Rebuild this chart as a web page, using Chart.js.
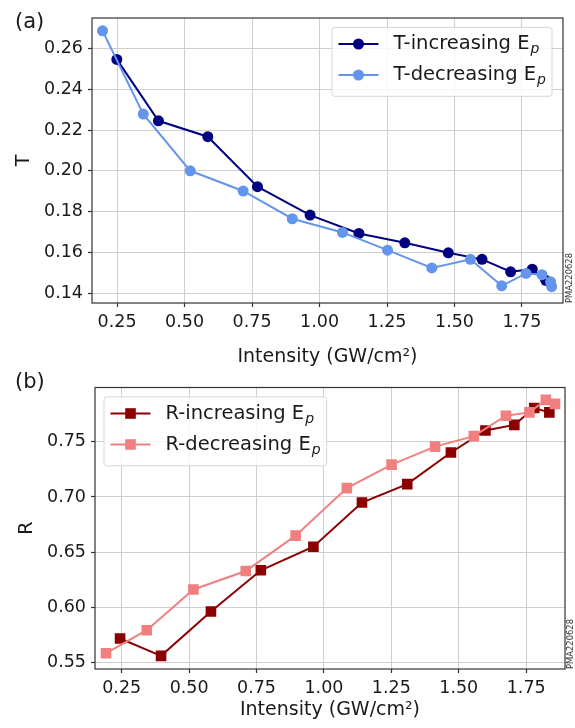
<!DOCTYPE html>
<html>
<head>
<meta charset="utf-8">
<script src="https://cdn.jsdelivr.net/npm/chart.js@4.4.1/dist/chart.umd.min.js"></script>
<style>
    html, body { margin: 0; padding: 0; background: #fff; }
    #wrap { position: relative; width: 575px; height: 728px; overflow: hidden;
            font-family: "DejaVu Sans", sans-serif; color: #1a1a1a; }
    #topCanvas { position: absolute; left: 0; top: 0; }
    #botCanvas { position: absolute; left: 0; top: 372px; }
    .panel { position: absolute; left: 15px; font-size: 21px; line-height: 21px; }
    .stamp { position: absolute; width: 60px; height: 10px; font-size: 8.4px; line-height: 10px;
             text-align: center; transform: rotate(-90deg); color: #333; }
</style>
</head>
<body>
<div id="wrap">
    <canvas id="topCanvas" width="575" height="372"></canvas>
    <canvas id="botCanvas" width="575" height="356"></canvas>
    <div class="panel" style="top:11px;">(a)</div>
    <div class="panel" style="top:371px;">(b)</div>
    <div class="stamp" style="left:539px; top:273px;">PMA220628</div>
    <div class="stamp" style="left:540px; top:639px;">PMA220628</div>
</div>
<script>
/*global Chart*/
(function () {
    "use strict";

    // ---- data ----
    var xTicks = [0.25, 0.50, 0.75, 1.00, 1.25, 1.50, 1.75];
    var tTicks = [0.14, 0.16, 0.18, 0.20, 0.22, 0.24, 0.26];
    var rTicks = [0.55, 0.60, 0.65, 0.70, 0.75];

    var tIncX = [0.249, 0.403, 0.586, 0.770, 0.965, 1.146, 1.316, 1.477, 1.602, 1.708, 1.788, 1.838];
    var tIncY = [0.2546, 0.2245, 0.2167, 0.1922, 0.1783, 0.1693, 0.1647, 0.1598, 0.1566, 0.1505, 0.1518, 0.1463];
    var tDecX = [0.196, 0.347, 0.521, 0.717, 0.899, 1.085, 1.252, 1.416, 1.559, 1.675, 1.765, 1.824, 1.856, 1.860];
    var tDecY = [0.2686, 0.2278, 0.2000, 0.1901, 0.1765, 0.1698, 0.1611, 0.1524, 0.1566, 0.1436, 0.1497, 0.1491, 0.1456, 0.1432];

    var rIncX = [0.244, 0.396, 0.581, 0.766, 0.961, 1.141, 1.309, 1.471, 1.599, 1.706, 1.780, 1.836];
    var rIncY = [0.5720, 0.5563, 0.5964, 0.6337, 0.6550, 0.6950, 0.7116, 0.7402, 0.7601, 0.7652, 0.7804, 0.7765];
    var rDecX = [0.192, 0.343, 0.516, 0.710, 0.895, 1.085, 1.251, 1.412, 1.556, 1.675, 1.762, 1.823, 1.857];
    var rDecY = [0.5587, 0.5795, 0.6163, 0.6330, 0.6650, 0.7080, 0.7292, 0.7455, 0.7550, 0.7735, 0.7765, 0.7878, 0.7842];

    var tLabels = ['T-increasing E_p', 'T-decreasing E_p'];
    var rLabels = ['R-increasing E_p', 'R-decreasing E_p'];

    var TXT = '#1a1a1a',
        GRID = '#cfcfcf',
        FRAME = '#333333';

    Chart.defaults.font.family = '"DejaVu Sans", sans-serif';
    Chart.defaults.color = TXT;

    var toPoints = function (xs, ys) {
        return xs.map(function (x, i) {
            return {x: x, y: ys[i]};
        });
    };

    // matplotlib-like box around the axes plus a legend drawn inside the plot
    var boxPlugin = {
        id: 'boxLegend',
        afterDraw: function (chart, args, opts) {
            var ctx = chart.ctx,
                area = chart.chartArea,
                size = opts.fontSize,
                mainFont = size + 'px "DejaVu Sans"',
                subFont = 'italic ' + Math.round(size * 0.7) + 'px "DejaVu Sans"',
                datasets = chart.data.datasets,
                maxW = 0;

            ctx.save();
            ctx.strokeStyle = FRAME;
            ctx.lineWidth = 1.2;
            ctx.strokeRect(area.left, area.top, area.right - area.left, area.bottom - area.top);

            datasets.forEach(function (ds) {
                var parts = ds.label.split('_'),
                    w;
                ctx.font = mainFont;
                w = ctx.measureText(parts[0]).width;
                ctx.font = subFont;
                w += ctx.measureText(parts[1]).width;
                maxW = Math.max(maxW, w);
            });

            var boxW = 6.5 + 55 + maxW + 7,
                boxH = 69,
                left = opts.align === 'right' ? area.right - 11 - boxW : area.left + 9,
                top = area.top + 9.3;

            ctx.beginPath();
            ctx.roundRect(left, top, boxW, boxH, 3);
            ctx.fillStyle = 'rgba(255,255,255,0.8)';
            ctx.fill();
            ctx.strokeStyle = '#d6d6d6';
            ctx.lineWidth = 1;
            ctx.stroke();

            datasets.forEach(function (ds, i) {
                var y = top + 16.7 + i * 31,
                    x0 = left + 6.5,
                    parts = ds.label.split('_'),
                    w;

                ctx.strokeStyle = ds.borderColor;
                ctx.lineWidth = ds.borderWidth;
                ctx.beginPath();
                ctx.moveTo(x0, y);
                ctx.lineTo(x0 + 40, y);
                ctx.stroke();

                ctx.fillStyle = ds.pointBackgroundColor;
                if (ds.pointStyle === 'rect') {
                    ctx.fillRect(x0 + 20 - 5.3, y - 5.3, 10.6, 10.6);
                } else {
                    ctx.beginPath();
                    ctx.arc(x0 + 20, y, ds.pointRadius, 0, Math.PI * 2);
                    ctx.fill();
                }

                ctx.fillStyle = TXT;
                ctx.textBaseline = 'middle';
                ctx.textAlign = 'left';
                ctx.font = mainFont;
                ctx.fillText(parts[0], x0 + 55, y);
                w = ctx.measureText(parts[0]).width;
                ctx.font = subFont;
                ctx.fillText(parts[1], x0 + 55 + w + 1, y + size * 0.3);
            });
            ctx.restore();
        }
    };

    var makeScales = function (cfg) {
        return {
            x: {
                type: 'linear',
                min: cfg.xMin,
                max: cfg.xMax,
                afterBuildTicks: function (scale) {
                    scale.ticks = xTicks.map(function (v) { return {value: v}; });
                },
                afterFit: function (scale) {
                    scale.height = cfg.xHeight;
                },
                grid: {color: GRID, lineWidth: 1, tickLength: 4, tickColor: FRAME, tickWidth: 1.2},
                border: {display: false},
                ticks: {
                    font: {size: 17.5}, color: TXT, padding: 5, maxRotation: 0, autoSkip: false,
                    callback: function (v) { return v.toFixed(2); }
                },
                title: {
                    display: true, text: 'Intensity (GW/cm\u00B2)', color: TXT,
                    font: {size: 19}, padding: {top: 0, bottom: cfg.xTitlePad}
                }
            },
            y: {
                type: 'linear',
                min: cfg.yMin,
                max: cfg.yMax,
                afterBuildTicks: function (scale) {
                    scale.ticks = cfg.yTicks.map(function (v) { return {value: v}; });
                },
                afterFit: function (scale) {
                    scale.width = cfg.yWidth;
                },
                grid: {color: GRID, lineWidth: 1, tickLength: 4, tickColor: FRAME, tickWidth: 1.2},
                border: {display: false},
                ticks: {
                    font: {size: 17.5}, color: TXT, padding: 5, autoSkip: false,
                    callback: function (v) { return v.toFixed(2); }
                },
                title: {
                    display: true, text: cfg.yTitle, color: TXT,
                    font: {size: 19}, padding: {top: cfg.yTitlePad, bottom: 0}
                }
            }
        };
    };

    var makeSeries = function (label, xs, ys, color, style, radius, order) {
        return {
            label: label,
            data: toPoints(xs, ys),
            borderColor: color,
            backgroundColor: color,
            pointBackgroundColor: color,
            pointBorderColor: color,
            pointBorderWidth: 0,
            pointStyle: style,
            pointRadius: radius,
            borderWidth: 2,
            tension: 0,
            order: order
        };
    };

    var baseOptions = function (scales, padding, align) {
        return {
            responsive: false,
            animation: false,
            devicePixelRatio: 1,
            layout: {padding: padding},
            plugins: {
                legend: {display: false},
                tooltip: {enabled: false},
                boxLegend: {fontSize: 19.5, align: align}
            },
            scales: scales
        };
    };

    // (a) transmission
    new Chart(document.getElementById('topCanvas'), {
        type: 'line',
        data: {
            datasets: [
                makeSeries(tLabels[0], tIncX, tIncY, '#000080', 'circle', 5.5, 1),
                makeSeries(tLabels[1], tDecX, tDecY, '#6495ED', 'circle', 5.5, 0)
            ]
        },
        options: baseOptions(makeScales({
            xMin: 0.157, xMax: 1.902, yMin: 0.1352, yMax: 0.2749,
            yTicks: tTicks, yTitle: 'T',
            xHeight: 69, yWidth: 92, xTitlePad: 3.6, yTitlePad: 12.6
        }), {top: 18, right: 12, bottom: 0, left: 0}, 'right'),
        plugins: [boxPlugin]
    });

    // (b) reflection
    new Chart(document.getElementById('botCanvas'), {
        type: 'line',
        data: {
            datasets: [
                makeSeries(rLabels[0], rIncX, rIncY, '#8B0000', 'rect', 7.5, 1),
                makeSeries(rLabels[1], rDecX, rDecY, '#F08080', 'rect', 7.5, 0)
            ]
        },
        options: baseOptions(makeScales({
            xMin: 0.151, xMax: 1.894, yMin: 0.5444, yMax: 0.799,
            yTicks: rTicks, yTitle: 'R',
            xHeight: 59, yWidth: 95, xTitlePad: 6.6, yTitlePad: 15.6
        }), {top: 12, right: 10, bottom: 0, left: 0}, 'left'),
        plugins: [boxPlugin]
    });
}());
</script>
</body>
</html>
